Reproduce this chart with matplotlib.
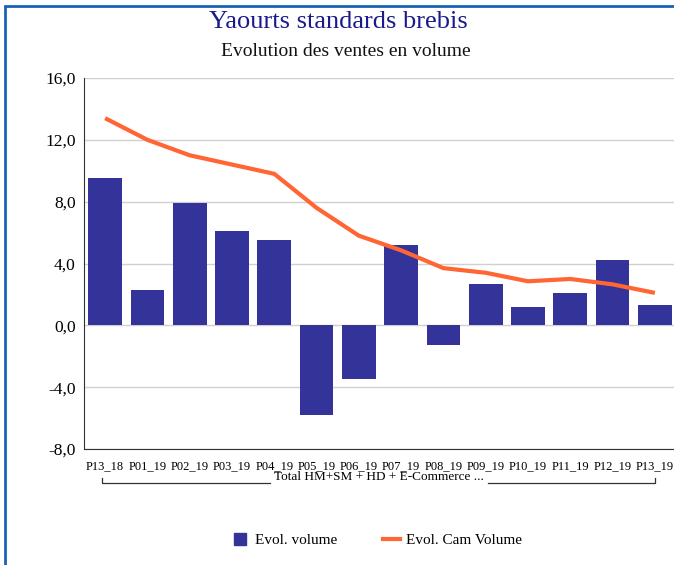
import matplotlib
matplotlib.use("Agg")
import matplotlib.pyplot as plt
from matplotlib.patches import Rectangle
from matplotlib.lines import Line2D

# ============================================================
# DATA
# ============================================================
periods = ["P13_18", "P01_19", "P02_19", "P03_19", "P04_19", "P05_19", "P06_19",
           "P07_19", "P08_19", "P09_19", "P10_19", "P11_19", "P12_19", "P13_19"]
evol_volume = [9.5, 2.3, 7.9, 6.1, 5.5, -5.8, -3.5, 5.2, -1.3, 2.7, 1.2, 2.1, 4.2, 1.3]
evol_cam = [13.4, 12.0, 11.0, 10.4, 9.8, 7.6, 5.8, 4.85, 3.7, 3.4, 2.85, 3.0, 2.65, 2.1]
yticks = [-8, -4, 0, 4, 8, 12, 16]
group_label = "Total HM+SM + HD + E-Commerce ..."

BAR_COLOR = "#333399"
LINE_COLOR = "#ff6633"
TITLE_COLOR = "#1a1a8c"
FRAME_COLOR = "#1a62b8"

plt.rcParams["font.family"] = ["Liberation Serif", "DejaVu Serif"]

# ============================================================
# FIGURE
# ============================================================
W, H = 674, 565
fig = plt.figure(figsize=(W / 100, H / 100), dpi=100)

# outer blue frame (only left + top visible, rest clipped)
fig.patches.append(Rectangle((5 / W, -0.1), 1.2, 1.1 - 5.5 / H, transform=fig.transFigure,
                             fill=False, edgecolor=FRAME_COLOR, linewidth=2))

ax = fig.add_axes([84 / W, 1 - 449 / H, 592 / W, (449 - 78) / H])

x = list(range(len(periods)))
ax.bar(x, evol_volume, width=0.8, color=BAR_COLOR, zorder=2)
ax.plot(x, evol_cam, color=LINE_COLOR, linewidth=3, zorder=3, solid_capstyle="butt")

ax.set_xlim(-0.5, len(periods) - 0.5)
ax.set_ylim(-8, 16)
ax.set_yticks(yticks)
ax.set_yticklabels([f"{v:.1f}".replace(".", ",") for v in yticks], fontsize=12.5)
ax.set_xticks(x)
ax.set_xticklabels(periods, fontsize=9)
ax.tick_params(axis="x", length=0, pad=8)
ax.tick_params(axis="y", length=0, pad=6)

ax.grid(axis="y", color="#d0d0d0", linewidth=1, zorder=0)
ax.set_axisbelow(True)
for s in ["top", "right"]:
    ax.spines[s].set_visible(False)
ax.spines["left"].set_color("#333333")
ax.spines["bottom"].set_color("#333333")

# group bracket under the tick labels
by = 1 - 483 / H
x0, x1 = 102 / W, 655 / W
tx0, tx1 = 270 / W, 488 / W
tf = fig.transFigure
fig.lines.append(Line2D([x0, x0, tx0], [by + 5 / H, by, by], color="#333333", lw=0.9, transform=tf))
fig.lines.append(Line2D([tx1, x1, x1], [by, by, by + 5 / H], color="#333333", lw=0.9, transform=tf))
fig.text(379 / W, 1 - 477 / H, group_label, ha="center", va="center", fontsize=9.5)

# titles
fig.text(338 / W, 1 - 22 / H, "Yaourts standards brebis", ha="center", va="center",
         fontsize=19, color=TITLE_COLOR)
fig.text(346 / W, 1 - 52 / H, "Evolution des ventes en volume", ha="center", va="center",
         fontsize=14, color="#111111")

# legend
handles = [Line2D([0], [0], marker="s", markersize=9, linestyle="none", color=BAR_COLOR),
           Line2D([0], [0], color=LINE_COLOR, lw=3)]
fig.legend(handles, ["Evol. volume", "Evol. Cam Volume"], loc="center",
           bbox_to_anchor=(377 / W, 1 - 540 / H), ncol=2, frameon=False,
           fontsize=11, handlelength=1.1, columnspacing=3.0,
           handletextpad=0.4)

fig.savefig("out.png", dpi=100)
